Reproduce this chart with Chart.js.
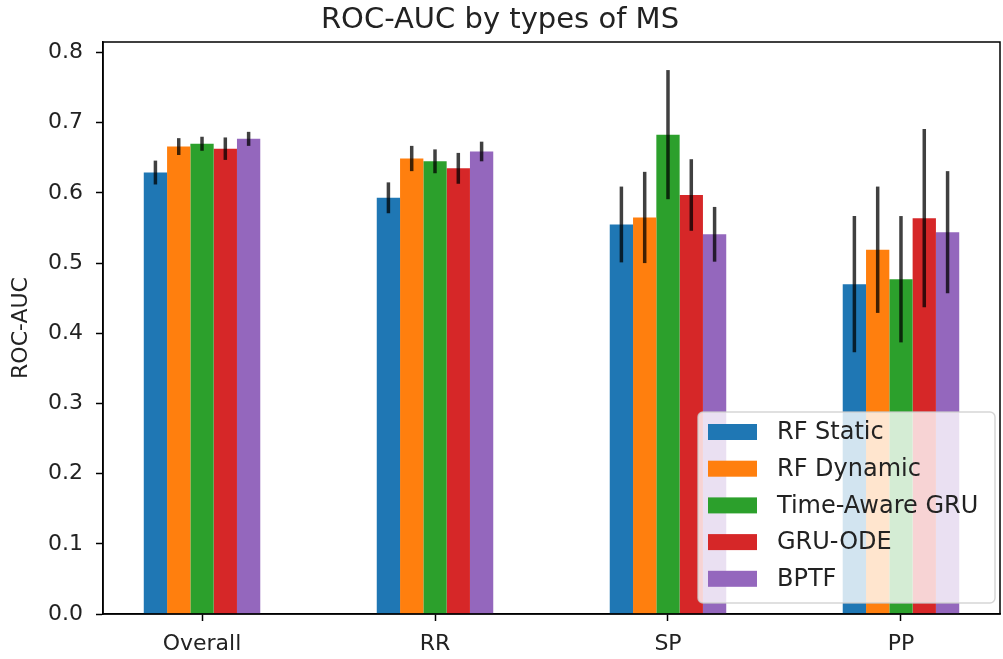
<!DOCTYPE html>
<html>
<head>
<meta charset="utf-8">
<script src="https://cdn.jsdelivr.net/npm/chart.js@4.4.0/dist/chart.umd.min.js"></script>
<style>
html,body{margin:0;padding:0;background:#fff;}
canvas{display:block;}
</style>
</head>
<body>
<canvas id="c" width="1003" height="659"></canvas>
<script>
const categories = ['Overall', 'RR', 'SP', 'PP'];
const seriesNames = ['RF Static', 'RF Dynamic', 'Time-Aware GRU', 'GRU-ODE', 'BPTF'];
const seriesColors = ['#1f77b4', '#ff7f0e', '#2ca02c', '#d62728', '#9467bd'];

const rfStatic      = [0.629, 0.593, 0.555, 0.470];
const rfDynamic     = [0.666, 0.649, 0.565, 0.519];
const timeAwareGRU  = [0.670, 0.645, 0.683, 0.477];
const gruODE        = [0.663, 0.635, 0.597, 0.564];
const bptf          = [0.677, 0.659, 0.541, 0.544];

const rfStaticErr     = [0.017, 0.022, 0.054, 0.097];
const rfDynamicErr    = [0.012, 0.018, 0.065, 0.090];
const timeAwareGRUErr = [0.010, 0.017, 0.092, 0.090];
const gruODEErr       = [0.016, 0.022, 0.051, 0.127];
const bptfErr         = [0.010, 0.014, 0.039, 0.087];

const yTicks = [0, 0.1, 0.2, 0.3, 0.4, 0.5, 0.6, 0.7, 0.8];

const seriesValues = [rfStatic, rfDynamic, timeAwareGRU, gruODE, bptf];
const seriesErrs = [rfStaticErr, rfDynamicErr, timeAwareGRUErr, gruODEErr, bptfErr];

const FONT = 'DejaVu Sans';
const TXT = '#222222';

const framePlugin = {
  id: 'frame',
  afterDatasetsDraw(chart) {
    const {ctx, chartArea: a} = chart;
    ctx.save();
    ctx.strokeStyle = '#000';
    ctx.lineWidth = 1.5;
    ctx.strokeRect(a.left, a.top, a.right - a.left, a.bottom - a.top);
    ctx.restore();
  }
};

const errorBarPlugin = {
  id: 'errbars',
  afterDatasetsDraw(chart) {
    const {ctx} = chart;
    const ys = chart.scales.y;
    ctx.save();
    ctx.strokeStyle = 'rgba(0,0,0,0.75)';
    ctx.lineWidth = 3.5;
    ctx.lineCap = 'butt';
    chart.data.datasets.forEach((ds, di) => {
      const meta = chart.getDatasetMeta(di);
      meta.data.forEach((el, j) => {
        const v = ds.data[j].y, e = ds.err[j];
        ctx.beginPath();
        ctx.moveTo(el.x, ys.getPixelForValue(v - e));
        ctx.lineTo(el.x, ys.getPixelForValue(v + e));
        ctx.stroke();
      });
    });
    ctx.restore();
  }
};

const legendPlugin = {
  id: 'boxLegend',
  afterDraw(chart) {
    const {ctx, chartArea: a} = chart;
    const ds = chart.data.datasets;
    const boxW = 297, boxH = 191;
    const x0 = a.right - 5 - boxW, y0 = a.bottom - 11 - boxH;
    ctx.save();
    ctx.fillStyle = 'rgba(255,255,255,0.8)';
    ctx.strokeStyle = 'rgba(204,204,204,0.8)';
    ctx.lineWidth = 1.5;
    ctx.beginPath();
    ctx.roundRect(x0, y0, boxW, boxH, 5);
    ctx.fill();
    ctx.stroke();
    ctx.font = '24px "' + FONT + '"';
    ctx.textBaseline = 'middle';
    ctx.textAlign = 'left';
    ds.forEach((d, i) => {
      const cy = y0 + 20 + i * 36.7;
      ctx.fillStyle = d.backgroundColor;
      ctx.fillRect(x0 + 10, cy - 8, 49, 16);
      ctx.fillStyle = TXT;
      ctx.fillText(d.label, x0 + 79, cy + 1);
    });
    ctx.restore();
  }
};

new Chart(document.getElementById('c'), {
  type: 'bar',
  data: {
    datasets: seriesNames.map((name, i) => ({
      label: name,
      data: seriesValues[i].map((v, j) => ({x: j, y: v})),
      err: seriesErrs[i],
      backgroundColor: seriesColors[i],
      borderWidth: 0,
      categoryPercentage: 0.5,
      barPercentage: 1.0
    }))
  },
  options: {
    responsive: false,
    animation: false,
    devicePixelRatio: 1,
    layout: {padding: {left: 0, right: 3, top: 0, bottom: 0}},
    plugins: {
      legend: {display: false},
      tooltip: {enabled: false},
      title: {
        display: true,
        text: 'ROC-AUC by types of MS',
        color: TXT,
        font: {family: FONT, size: 29, weight: 'normal'},
        padding: {top: 3, bottom: 4.2}
      }
    },
    scales: {
      x: {
        type: 'linear',
        offset: false,
        min: -0.425,
        max: 3.425,
        afterBuildTicks: s => { s.ticks = categories.map((c, i) => ({value: i})); },
        afterFit: s => { s.height = 45; },
        ticks: {
          callback: v => categories[v],
          color: TXT,
          font: {family: FONT, size: 22},
          padding: 10,
          autoSkip: false,
          maxRotation: 0
        },
        grid: {offset: false, drawOnChartArea: false, drawTicks: true, tickLength: 7, tickWidth: 1.5, tickColor: '#000'},
        border: {display: true, color: '#000', width: 1.5}
      },
      y: {
        min: 0,
        max: 0.815,
        afterBuildTicks: s => { s.ticks = yTicks.map(v => ({value: v})); },
        afterFit: s => { s.width = 103; },
        ticks: {
          callback: v => v.toFixed(1),
          color: TXT,
          font: {family: FONT, size: 22},
          padding: 13
        },
        grid: {drawOnChartArea: false, drawTicks: true, tickLength: 7, tickWidth: 1.5, tickColor: '#000'},
        border: {display: true, color: '#000', width: 1.5},
        title: {
          display: true,
          text: 'ROC-AUC',
          color: TXT,
          font: {family: FONT, size: 22},
          padding: {top: 8, bottom: 0}
        }
      }
    }
  },
  plugins: [framePlugin, errorBarPlugin, legendPlugin]
});
</script>
</body>
</html>
